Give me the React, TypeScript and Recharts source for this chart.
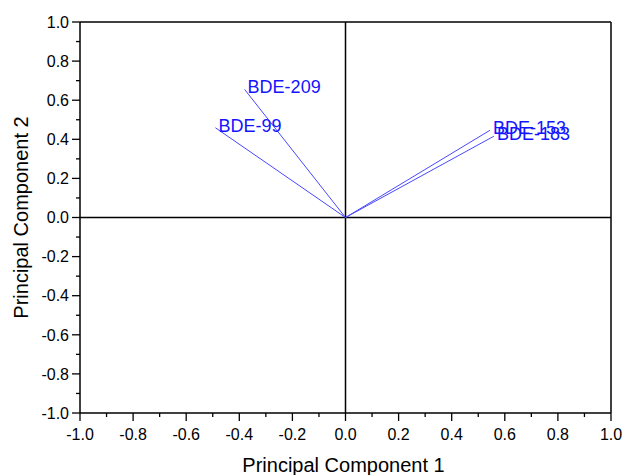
import { ScatterChart, Scatter, XAxis, YAxis, ReferenceLine } from 'recharts'

// PCA loadings
const loadingNames = ['BDE-209', 'BDE-99', 'BDE-153', 'BDE-183']
const pc1 = [-0.38, -0.49, 0.544, 0.559]
const pc2 = [0.655, 0.459, 0.446, 0.416]

const xTicks = [
  -1, -0.9, -0.8, -0.7, -0.6, -0.5, -0.4, -0.3, -0.2, -0.1, 0, 0.1, 0.2, 0.3, 0.4, 0.5, 0.6, 0.7, 0.8,
  0.9, 1,
]
const yTicks = [
  -1, -0.9, -0.8, -0.7, -0.6, -0.5, -0.4, -0.3, -0.2, -0.1, 0, 0.1, 0.2, 0.3, 0.4, 0.5, 0.6, 0.7, 0.8,
  0.9, 1,
]

const FONT = '"Liberation Sans", Arial, sans-serif'
const LINE_BLUE = '#4848ff'
const TEXT_BLUE = '#1414ff'

const isMajor = (v: number) => Math.round(v * 10) % 2 === 0

function XTick({ x, y, payload }: any) {
  const v = payload.value
  const major = isMajor(v)
  return (
    <g>
      <line x1={x} x2={x} y1={y} y2={y + (major ? 8 : 4)} stroke="#000" strokeWidth={1.3} />
      {major && (
        <text x={x} y={y + 27} textAnchor="middle" fontSize={16} fontFamily={FONT} fill="#000">
          {v.toFixed(1)}
        </text>
      )}
    </g>
  )
}

function YTick({ x, y, payload }: any) {
  const v = payload.value
  const major = isMajor(v)
  return (
    <g>
      <line x1={x} x2={x - (major ? 8 : 4)} y1={y} y2={y} stroke="#000" strokeWidth={1.3} />
      {major && (
        <text x={x - 11} y={y} dy="0.36em" textAnchor="end" fontSize={16} fontFamily={FONT} fill="#000">
          {v.toFixed(1)}
        </text>
      )}
    </g>
  )
}

function TipLabel(props: any) {
  const { cx, cy, payload } = props
  if (!payload?.name) return <g />
  return (
    <text x={cx + 3} y={cy + 4} fontSize={18} fontFamily={FONT} fill={TEXT_BLUE}>
      {payload.name}
    </text>
  )
}

export default function App() {
  const series = loadingNames.map((name, i) => ({
    name,
    data: [
      { x: 0, y: 0 },
      { x: pc1[i], y: pc2[i], name },
    ],
  }))

  return (
    <div style={{ position: 'absolute', left: 0, top: 0, width: 625, height: 475, fontFamily: FONT }}>
      <ScatterChart width={625} height={475} margin={{ top: 22, right: 14, bottom: 0, left: 0 }}>
        <XAxis
          type="number"
          dataKey="x"
          domain={[-1, 1]}
          ticks={xTicks}
          interval={0}
          allowDataOverflow
          height={62}
          tickSize={0}
          tickMargin={0}
          tickLine={false}
          tick={<XTick />}
          axisLine={{ stroke: '#000', strokeWidth: 1.5 }}
          label={{
            content: ({ viewBox }: any) => (
              <text
                x={viewBox.x + viewBox.width / 2 - 2}
                y={viewBox.y + 59}
                textAnchor="middle"
                fontSize={20}
                fontFamily={FONT}
                fill="#000"
              >
                Principal Component 1
              </text>
            ),
          }}
        />
        <YAxis
          type="number"
          dataKey="y"
          domain={[-1, 1]}
          ticks={yTicks}
          interval={0}
          allowDataOverflow
          width={80}
          tickSize={0}
          tickMargin={0}
          tickLine={false}
          tick={<YTick />}
          axisLine={{ stroke: '#000', strokeWidth: 1.5 }}
          label={{
            content: ({ viewBox }: any) => {
              const cx = viewBox.x + 28
              const cy = viewBox.y + viewBox.height / 2
              return (
                <text
                  x={cx}
                  y={cy}
                  transform={`rotate(-90 ${cx} ${cy})`}
                  textAnchor="middle"
                  fontSize={20}
                  fontFamily={FONT}
                  fill="#000"
                >
                  Principal Component 2
                </text>
              )
            },
          }}
        />
        {/* frame and zero lines */}
        <ReferenceLine y={1} stroke="#000" strokeWidth={1.5} />
        <ReferenceLine x={1} stroke="#000" strokeWidth={1.5} />
        <ReferenceLine y={0} stroke="#000" strokeWidth={1.5} />
        <ReferenceLine x={0} stroke="#000" strokeWidth={1.5} />
        {series.map((s) => (
          <Scatter
            key={s.name}
            name={s.name}
            data={s.data}
            line={{ stroke: LINE_BLUE, strokeWidth: 1 }}
            lineType="joint"
            shape={TipLabel}
            isAnimationActive={false}
          />
        ))}
      </ScatterChart>
    </div>
  )
}
